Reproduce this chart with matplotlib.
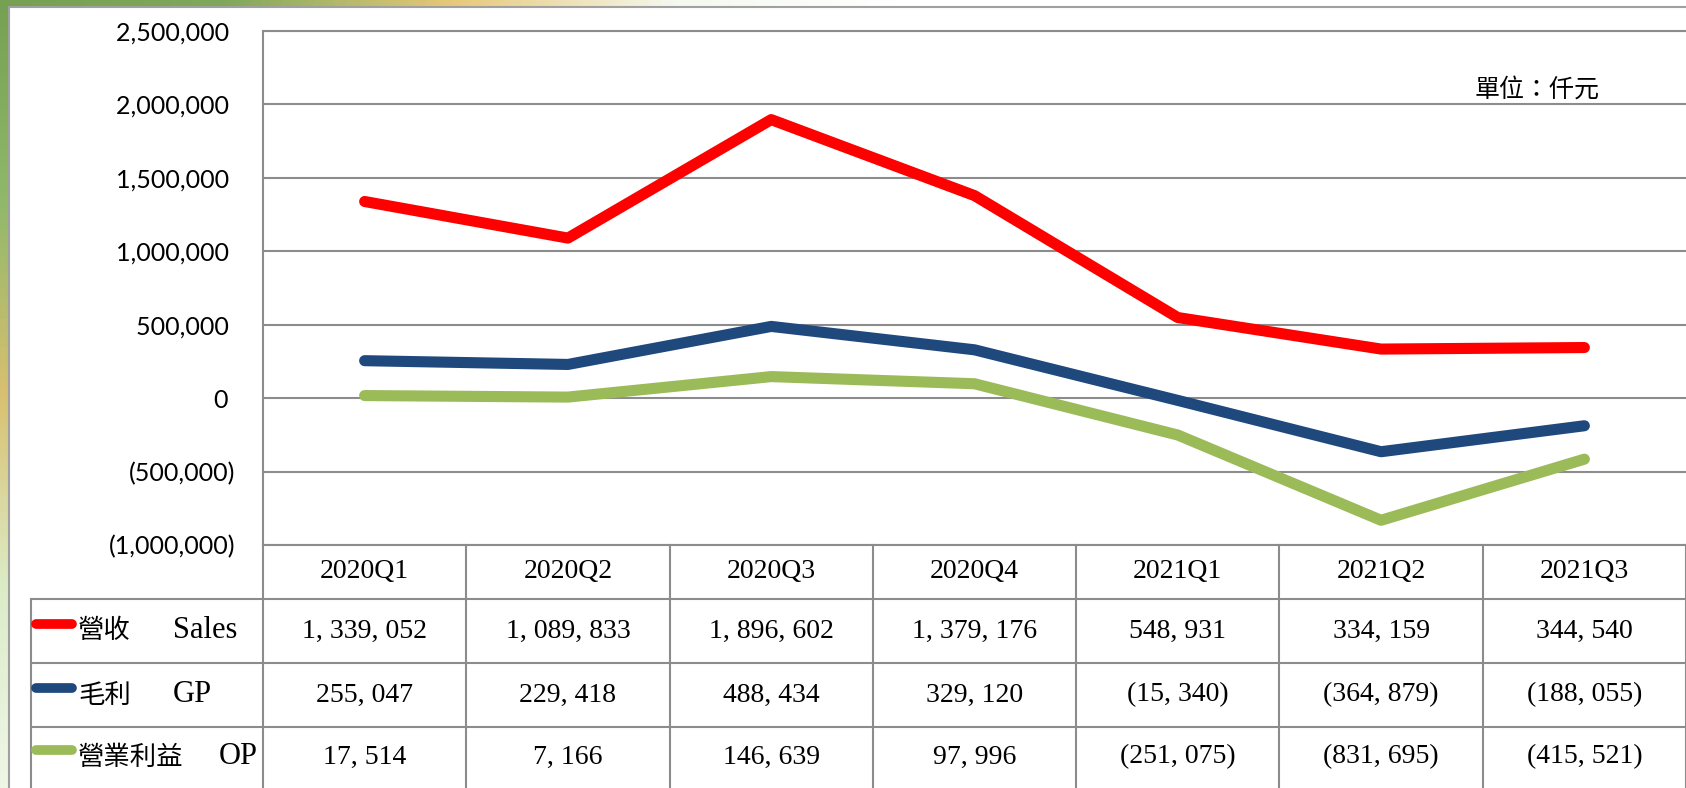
import numpy as np
import matplotlib.pyplot as plt
from matplotlib import font_manager
from matplotlib.colors import LinearSegmentedColormap
from matplotlib.patches import Rectangle
from matplotlib.ticker import FuncFormatter

quarters = ['2020Q1', '2020Q2', '2020Q3', '2020Q4', '2021Q1', '2021Q2', '2021Q3']
sales = [1339052, 1089833, 1896602, 1379176, 548931, 334159, 344540]
gp    = [255047, 229418, 488434, 329120, -15340, -364879, -188055]
op    = [17514, 7166, 146639, 97996, -251075, -831695, -415521]

names_zh = ['營收', '毛利', '營業利益']
names_en = ['Sales', 'GP', 'OP']
colors   = ['#FF0000', '#1F497D', '#9BBB59']
yticks   = np.arange(-1000000, 2500001, 500000)
unit_label = '單位：仟元'

installed = {f.name for f in font_manager.fontManager.ttflist}
def pick(*names):
    for n in names:
        if n in installed:
            return n
    return 'DejaVu Sans'

tick_font = pick('Liberation Sans Narrow', 'Lato', 'Liberation Sans')
num_font  = pick('DejaVu Serif Condensed', 'Liberation Serif')
cjk = ['Noto Sans CJK TC', 'DejaVu Sans']

W, H = 1686, 788
fig = plt.figure(figsize=(W/100, H/100), dpi=100)

# background / frame, in pixel coords
bg = fig.add_axes([0, 0, 1, 1])
bg.set_xlim(0, W); bg.set_ylim(H, 0); bg.axis('off')
side = LinearSegmentedColormap.from_list('side', ['#76a052', '#8fb86a', '#d8c070', '#dcecc8', '#eef6e6'])
top = LinearSegmentedColormap.from_list('top', ['#76a052', '#80a85c', '#e6c878', '#f4f8ee', '#ffffff'])
bg.imshow(np.linspace(0, 1, 200).reshape(-1, 1), cmap=side, extent=(0, 10, H, 0), aspect='auto')
bg.imshow(np.linspace(0, 1, 200).reshape(1, -1), cmap=top, extent=(0, 900, 8, 0), aspect='auto')
bg.add_patch(Rectangle((9, 7), W, H, facecolor='white', edgecolor='#a0a0a0', lw=1.5))
bg.set_xlim(0, W); bg.set_ylim(H, 0)

# chart area
x0, x1, y0, y1 = 263, W, 31, 545
ax = fig.add_axes([x0/W, 1 - y1/H, (x1 - x0)/W, (y1 - y0)/H])
ax.patch.set_alpha(0)
for vals, c in zip([sales, gp, op], colors):
    ax.plot(range(len(quarters)), vals, color=c, lw=8,
            solid_capstyle='round', solid_joinstyle='round', zorder=3)
ax.set_xlim(-0.5, len(quarters) - 0.5)
ax.set_ylim(yticks[0], yticks[-1])
ax.set_yticks(yticks)
ax.set_xticks([])
ax.grid(axis='y', color='#8c8c8c', lw=1.5)
for s in ['right', 'bottom']:
    ax.spines[s].set_visible(False)
for s in ['left', 'top']:
    ax.spines[s].set_color('#8c8c8c'); ax.spines[s].set_linewidth(1.5)

def ytick_fmt(v, pos):
    if v < 0:
        return f'({abs(v):,.0f})'
    return f'{v:,.0f} '
ax.yaxis.set_major_formatter(FuncFormatter(ytick_fmt))
ax.tick_params(axis='y', length=0, pad=20, labelsize=18)
for t in ax.get_yticklabels():
    t.set_fontfamily(tick_font)

bg.text(1600, 90, unit_label, ha='right', va='center', fontsize=18, family=cjk)

# data table under the chart
col_w = (x1 - x0) / len(quarters)
rows_y = [545, 599, 663, 727, 800]
gray = '#8c8c8c'
for k in range(len(quarters) + 1):
    bg.plot([x0 + k*col_w]*2, [rows_y[0], H], color=gray, lw=1.5)
bg.plot([31, 31], [rows_y[1], H], color=gray, lw=1.5)
bg.plot([x0, W], [rows_y[0]]*2, color=gray, lw=1.5)
for yy in rows_y[1:4]:
    bg.plot([31, W], [yy]*2, color=gray, lw=1.5)

def fmt(v):
    s = f'{abs(v):,}'.replace(',', ', ')
    return f'({s})' if v < 0 else s

for k, q in enumerate(quarters):
    bg.text(x0 + (k + 0.5)*col_w, (rows_y[0] + rows_y[1])/2, q, ha='center', va='center',
            fontsize=20, family=num_font)

en_x = [173, 173, 258]
en_ha = ['left', 'left', 'right']
for i, (vals, zh, en, c) in enumerate(zip([sales, gp, op], names_zh, names_en, colors)):
    yc = (rows_y[i+1] + rows_y[i+2]) / 2 if i < 2 else 757
    bg.plot([36, 72], [yc - 7]*2, color=c, lw=7, solid_capstyle='round')
    bg.text(78, yc, zh, ha='left', va='center', fontsize=19, family=cjk)
    bg.text(en_x[i], yc, en, ha=en_ha[i], va='center', fontsize=22, family=num_font)
    for k, v in enumerate(vals):
        bg.text(x0 + (k + 0.5)*col_w, yc, fmt(v), ha='center', va='center',
                fontsize=20, family=num_font)

plt.savefig('out.png', dpi=100)
